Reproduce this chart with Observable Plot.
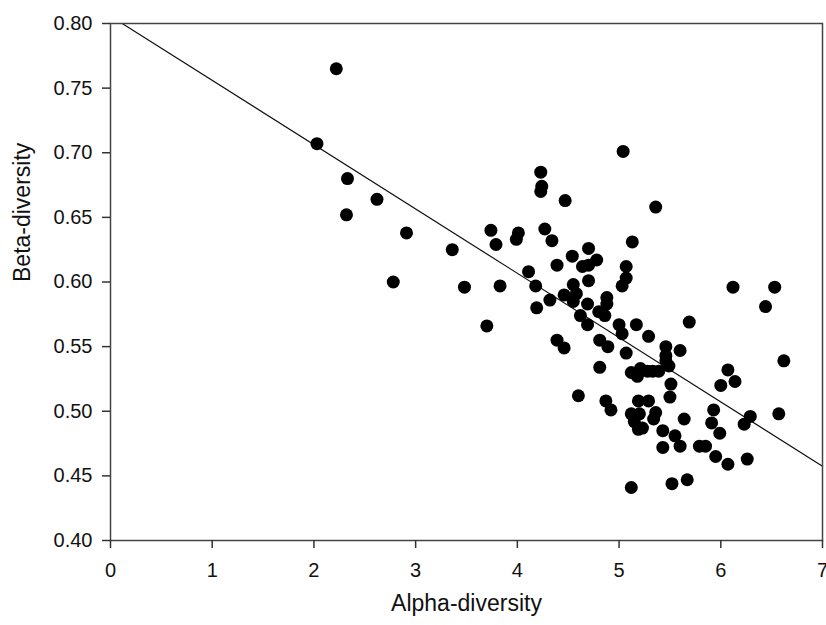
<!DOCTYPE html>
<html>
<head>
<meta charset="utf-8">
<script src="https://cdn.jsdelivr.net/npm/d3@7"></script>
<script src="https://cdn.jsdelivr.net/npm/@observablehq/plot@0.6"></script>
<style>
  html, body { margin: 0; padding: 0; background: #fff; }
  #chart { width: 826px; height: 625px; }
</style>
</head>
<body>
<div id="chart"></div>
<script>
const alpha = [
  2.22, 2.03, 2.33, 2.32, 2.62, 2.91, 2.78, 5.04, 4.23, 4.24,
  4.23, 4.47, 5.36, 3.74, 3.79, 4.01, 3.99, 4.27, 4.34, 5.13,
  3.36, 4.70, 4.54, 4.78, 4.64, 4.70, 4.39, 5.07, 5.07, 5.03,
  4.11, 4.70, 4.55, 3.48, 3.83, 4.18, 4.58, 6.12, 6.53, 6.44,
  4.88, 4.46, 4.32, 4.55, 4.69, 4.88, 4.19, 3.70, 4.80, 4.86,
  4.62, 4.69, 5.00, 5.03, 5.17, 5.69, 5.29, 4.39, 4.46, 4.81,
  4.89, 5.07, 5.46, 5.60, 5.46, 5.46, 5.49, 4.81, 6.62, 5.12,
  5.18, 5.21, 5.28, 5.33, 5.39, 6.07, 6.14, 6.00, 5.51, 5.50,
  4.60, 4.87, 4.92, 5.19, 5.29, 5.12, 5.20, 5.15, 5.19, 5.23,
  5.36, 5.34, 5.64, 5.43, 5.43, 5.55, 5.60, 5.79, 5.85, 5.93,
  5.91, 5.99, 5.95, 6.07, 6.26, 6.23, 6.29, 6.57, 5.12, 5.52,
  5.67
];
const beta = [
  0.765, 0.707, 0.680, 0.652, 0.664, 0.638, 0.600, 0.701, 0.685, 0.674,
  0.670, 0.663, 0.658, 0.640, 0.629, 0.638, 0.633, 0.641, 0.632, 0.631,
  0.625, 0.626, 0.620, 0.617, 0.612, 0.613, 0.613, 0.612, 0.603, 0.597,
  0.608, 0.601, 0.598, 0.596, 0.597, 0.597, 0.591, 0.596, 0.596, 0.581,
  0.588, 0.590, 0.586, 0.585, 0.583, 0.583, 0.580, 0.566, 0.577, 0.574,
  0.574, 0.567, 0.567, 0.560, 0.567, 0.569, 0.558, 0.555, 0.549, 0.555,
  0.550, 0.545, 0.550, 0.547, 0.543, 0.539, 0.535, 0.534, 0.539, 0.530,
  0.527, 0.533, 0.531, 0.531, 0.531, 0.532, 0.523, 0.520, 0.521, 0.511,
  0.512, 0.508, 0.501, 0.508, 0.508, 0.498, 0.498, 0.492, 0.486, 0.487,
  0.499, 0.494, 0.494, 0.485, 0.472, 0.481, 0.473, 0.473, 0.473, 0.501,
  0.491, 0.483, 0.465, 0.459, 0.463, 0.490, 0.496, 0.498, 0.441, 0.444,
  0.447
];
// regression line end points
const fitX = [0.115, 7];
const fitY = [0.80, 0.4575];

const xTicks = [0, 1, 2, 3, 4, 5, 6, 7];
const yTicks = [0.40, 0.45, 0.50, 0.55, 0.60, 0.65, 0.70, 0.75, 0.80];
const xTitle = "Alpha-diversity";
const yTitle = "Beta-diversity";

const points = alpha.map((a, i) => ({a, b: beta[i]}));
const fit = fitX.map((x, i) => ({x, y: fitY[i]}));

const chart = Plot.plot({
  width: 826,
  height: 625,
  marginLeft: 110,
  marginRight: 4,
  marginTop: 23,
  marginBottom: 85,
  style: {fontFamily: "'Liberation Sans', Arial, sans-serif", fontSize: "20px", background: "#fff", color: "#111"},
  x: {domain: [0, 7]},
  y: {domain: [0.40, 0.80]},
  marks: [
    Plot.line(fit, {x: "x", y: "y", stroke: "#111", strokeWidth: 1.2}),
    Plot.dot(points, {x: "a", y: "b", r: 6.5, fill: "#000", stroke: "none"}),
    Plot.frame({stroke: "#444", strokeWidth: 1.5}),
    Plot.axisX(xTicks, {tickSize: 8, tickPadding: 14, label: null, tickFormat: d => String(d), stroke: "#333", strokeWidth: 1.5}),
    Plot.axisY(yTicks, {tickSize: 8, tickPadding: 10, label: null, tickFormat: d3.format(".2f"), stroke: "#333", strokeWidth: 1.5}),
    Plot.text([xTitle], {frameAnchor: "bottom", dy: 70, fontSize: 23, fill: "#111"}),
    Plot.text([yTitle], {frameAnchor: "left", dx: -88, rotate: -90, fontSize: 23, fill: "#111"})
  ]
});
document.getElementById("chart").appendChild(chart);
</script>
</body>
</html>
